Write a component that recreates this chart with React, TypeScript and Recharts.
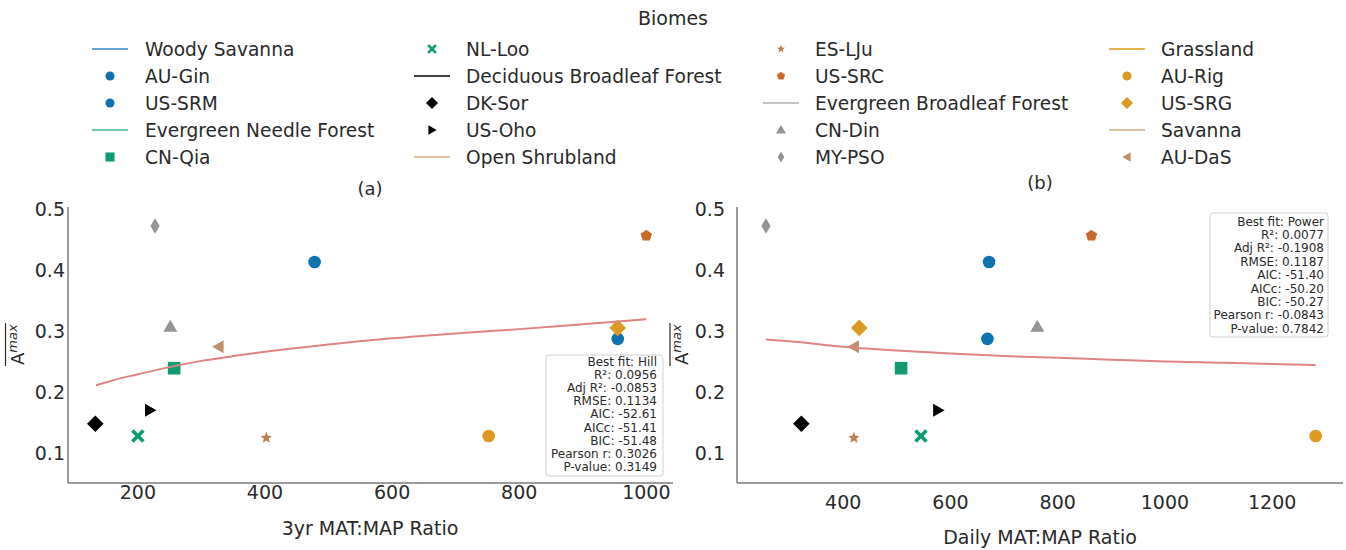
import React from 'react';
import { ScatterChart, Scatter, XAxis, YAxis } from 'recharts';

// ---------- data ----------
const sites = ['AU-Gin', 'US-SRM', 'CN-Qia', 'NL-Loo', 'DK-Sor', 'US-Oho', 'ES-LJu', 'US-SRC', 'CN-Din', 'MY-PSO', 'AU-Rig', 'US-SRG', 'AU-DaS'];
const ratio3yr = [478, 955, 257, 200, 133, 219, 402, 1000, 251, 227, 752, 955, 327];
const ratioDaily = [672, 669, 508, 545, 322, 577, 420, 863, 762, 256, 1281, 430, 420];
const amax = [0.413, 0.287, 0.239, 0.128, 0.148, 0.170, 0.125, 0.456, 0.307, 0.472, 0.128, 0.305, 0.274];

const fitAx = [134, 160, 200, 255, 300, 350, 400, 500, 600, 700, 800, 900, 1000];
const fitAy = [0.211, 0.219, 0.229, 0.242, 0.251, 0.259, 0.266, 0.278, 0.288, 0.296, 0.303, 0.311, 0.319];
const fitBx = [256, 300, 400, 500, 600, 700, 800, 900, 1000, 1100, 1200, 1281];
const fitBy = [0.286, 0.283, 0.274, 0.268, 0.263, 0.259, 0.256, 0.253, 0.250, 0.248, 0.246, 0.244];

const yTicks = [0.1, 0.2, 0.3, 0.4, 0.5];
const xTicksA = [200, 400, 600, 800, 1000];
const xTicksB = [400, 600, 800, 1000, 1200];

const statsA = ['Best fit: Hill', 'R²: 0.0956', 'Adj R²: -0.0853', 'RMSE: 0.1134', 'AIC: -52.61', 'AICc: -51.41', 'BIC: -51.48', 'Pearson r: 0.3026', 'P-value: 0.3149'];
const statsB = ['Best fit: Power', 'R²: 0.0077', 'Adj R²: -0.1908', 'RMSE: 0.1187', 'AIC: -51.40', 'AICc: -50.20', 'BIC: -50.27', 'Pearson r: -0.0843', 'P-value: 0.7842'];

const legendColumns = [
  ['Woody Savanna', 'AU-Gin', 'US-SRM', 'Evergreen Needle Forest', 'CN-Qia'],
  ['NL-Loo', 'Deciduous Broadleaf Forest', 'DK-Sor', 'US-Oho', 'Open Shrubland'],
  ['ES-LJu', 'US-SRC', 'Evergreen Broadleaf Forest', 'CN-Din', 'MY-PSO'],
  ['Grassland', 'AU-Rig', 'US-SRG', 'Savanna', 'AU-DaS'],
];

// ---------- styles ----------
const FONT = 'DejaVu Sans';
const TEXT = '#2a2a2a';
const AXIS = '#7a7a7a';
const FIT = '#df8383';

const siteStyle: Record<string, { kind: string; color: string }> = {
  'AU-Gin': { kind: 'circle', color: '#0e72b1' },
  'US-SRM': { kind: 'circle', color: '#0e72b1' },
  'CN-Qia': { kind: 'square', color: '#109a72' },
  'NL-Loo': { kind: 'x', color: '#109a72' },
  'DK-Sor': { kind: 'diamond', color: '#000000' },
  'US-Oho': { kind: 'triRight', color: '#000000' },
  'ES-LJu': { kind: 'star', color: '#b8804e' },
  'US-SRC': { kind: 'pentagon', color: '#c9692c' },
  'CN-Din': { kind: 'triUp', color: '#949494' },
  'MY-PSO': { kind: 'thinDiamond', color: '#949494' },
  'AU-Rig': { kind: 'circle', color: '#dc9a20' },
  'US-SRG': { kind: 'diamond', color: '#dc9a20' },
  'AU-DaS': { kind: 'triLeft', color: '#c0906a' },
};

const biomeLine: Record<string, string> = {
  'Woody Savanna': '#64a6d0',
  'Evergreen Needle Forest': '#70c8ae',
  'Deciduous Broadleaf Forest': '#444444',
  'Open Shrubland': '#e6c49e',
  'Evergreen Broadleaf Forest': '#c4c4c4',
  'Grassland': '#e8b44e',
  'Savanna': '#dcc3a4',
};

function markerEl(kind: string, cx: number, cy: number, color: string, s: number) {
  switch (kind) {
    case 'circle':
      return <circle cx={cx} cy={cy} r={6.3 * s} fill={color} />;
    case 'square':
      return <rect x={cx - 6.3 * s} y={cy - 6.3 * s} width={12.6 * s} height={12.6 * s} fill={color} />;
    case 'diamond': {
      const h = 8.3 * s;
      return <path d={`M${cx},${cy - h}L${cx + h},${cy}L${cx},${cy + h}L${cx - h},${cy}Z`} fill={color} />;
    }
    case 'thinDiamond': {
      const w = 4.6 * s, h = 7.8 * s;
      return <path d={`M${cx},${cy - h}L${cx + w},${cy}L${cx},${cy + h}L${cx - w},${cy}Z`} fill={color} />;
    }
    case 'triUp': {
      const w = 7 * s;
      return <path d={`M${cx},${cy - 7 * s}L${cx + w},${cy + 5 * s}L${cx - w},${cy + 5 * s}Z`} fill={color} />;
    }
    case 'triRight':
      return <path d={`M${cx + 6.5 * s},${cy}L${cx - 5 * s},${cy - 6.5 * s}L${cx - 5 * s},${cy + 6.5 * s}Z`} fill={color} />;
    case 'triLeft':
      return <path d={`M${cx - 6.5 * s},${cy}L${cx + 5 * s},${cy - 6.5 * s}L${cx + 5 * s},${cy + 6.5 * s}Z`} fill={color} />;
    case 'pentagon': {
      const r = 6 * s;
      const pts = [0, 1, 2, 3, 4].map((i) => {
        const a = -Math.PI / 2 + (i * 2 * Math.PI) / 5;
        return `${cx + r * Math.cos(a)},${cy + r * Math.sin(a)}`;
      });
      return <polygon points={pts.join(' ')} fill={color} />;
    }
    case 'star': {
      const ro = 6 * s, ri = 2.6 * s;
      const pts = Array.from({ length: 10 }, (_, i) => {
        const a = -Math.PI / 2 + (i * Math.PI) / 5;
        const r = i % 2 === 0 ? ro : ri;
        return `${cx + r * Math.cos(a)},${cy + r * Math.sin(a)}`;
      });
      return <polygon points={pts.join(' ')} fill={color} />;
    }
    case 'x': {
      const h = 4.2 * s;
      return (
        <g stroke={color} strokeWidth={3.6 * s} strokeLinecap="square">
          <line x1={cx - h} y1={cy - h} x2={cx + h} y2={cy + h} />
          <line x1={cx - h} y1={cy + h} x2={cx + h} y2={cy - h} />
        </g>
      );
    }
    default:
      return <circle cx={cx} cy={cy} r={5 * s} fill={color} />;
  }
}

const makeShape = (site: string) => (props: any) => {
  const st = siteStyle[site];
  if (props.cx == null || props.cy == null) return <g />;
  return markerEl(st.kind, props.cx, props.cy, st.color, 1);
};

const emptyShape = () => <g />;

function Panel({ xs, fitX, fitY, xTicks, domain, left, right, yWidth, xMargin, yMargin }: any) {
  const fitData = fitX.map((x: number, i: number) => ({ x, y: fitY[i] }));
  const tickStyle = { fontSize: 19, fill: TEXT, fontFamily: FONT };
  return (
    <div style={{ position: 'absolute', left: 0, top: 0 }}>
      <ScatterChart width={1346} height={550} margin={{ top: 207, right, bottom: 0, left }}>
        <XAxis
          type="number"
          dataKey="x"
          domain={domain}
          ticks={xTicks}
          allowDataOverflow
          interval={0}
          height={67}
          tickLine={false}
          tickSize={0}
          tickMargin={xMargin}
          axisLine={{ stroke: AXIS, strokeWidth: 1.5 }}
          tick={tickStyle}
        />
        <YAxis
          type="number"
          dataKey="y"
          domain={[0.051, 0.503]}
          ticks={yTicks}
          allowDataOverflow
          interval={0}
          width={yWidth}
          tickLine={false}
          tickSize={0}
          tickMargin={yMargin}
          axisLine={{ stroke: AXIS, strokeWidth: 1.5 }}
          tick={tickStyle}
          tickFormatter={(v: number) => v.toFixed(1)}
        />
        {sites.map((s, i) => (
          <Scatter
            key={s}
            name={s}
            data={[{ x: xs[i], y: amax[i] }]}
            shape={makeShape(s)}
            isAnimationActive={false}
          />
        ))}
        <Scatter
          name="fit"
          data={fitData}
          line={{ stroke: FIT, strokeWidth: 2 }}
          lineJointType="monotoneX"
          shape={emptyShape}
          isAnimationActive={false}
        />
      </ScatterChart>
    </div>
  );
}

function YLabel({ x, y }: { x: number; y: number }) {
  return (
    <g transform={`translate(${x},${y}) rotate(-90)`}>
      <text x={-20} y={0} fontSize={18} fill={TEXT} fontFamily={FONT}>
        <tspan>A</tspan>
        <tspan fontSize={13} fontStyle="italic" dy={-7}>max</tspan>
      </text>
      <line x1={-21} x2={22} y1={-18} y2={-18} stroke={TEXT} strokeWidth={1.2} />
    </g>
  );
}

function StatsBox({ x, y, w, h, lines, textRight, firstBaseline, step }: any) {
  return (
    <g>
      <rect x={x} y={y} width={w} height={h} rx={3} fill="#ffffff" fillOpacity={0.85} stroke="#d0d0d0" strokeWidth={1} />
      {lines.map((t: string, i: number) => (
        <text key={t} x={textRight} y={firstBaseline + i * step} textAnchor="end" fontSize={12} fill={TEXT} fontFamily={FONT}>
          {t}
        </text>
      ))}
    </g>
  );
}

const colMarkerX = [110, 432, 781, 1127];
const colTextX = [145, 466, 815, 1161];
const rowY = [49, 76, 103, 130, 157];

function Legend() {
  return (
    <g>
      <text x={673} y={25} textAnchor="middle" fontSize={19} fill={TEXT} fontFamily={FONT}>Biomes</text>
      {legendColumns.map((col, ci) =>
        col.map((label, ri) => {
          const mx = colMarkerX[ci];
          const my = rowY[ri];
          const isLine = biomeLine[label] !== undefined;
          return (
            <g key={label}>
              {isLine ? (
                <line x1={mx - 18} x2={mx + 18} y1={my} y2={my} stroke={biomeLine[label]} strokeWidth={2} />
              ) : (
                markerEl(siteStyle[label].kind, mx, my, siteStyle[label].color, 0.72)
              )}
              <text x={colTextX[ci]} y={my + 6.5} fontSize={18.6} fill={TEXT} fontFamily={FONT}>{label}</text>
            </g>
          );
        })
      )}
    </g>
  );
}

export default function App() {
  return (
    <div style={{ position: 'absolute', left: 0, top: 0, width: 1346, height: 550, background: '#ffffff', fontFamily: FONT }}>
      <Panel xs={ratio3yr} fitX={fitAx} fitY={fitAy} xTicks={xTicksA} domain={[90, 1042]} left={0} right={673} yWidth={68} xMargin={3} yMargin={3} />
      <Panel xs={ratioDaily} fitX={fitBx} fitY={fitBy} xTicks={xTicksB} domain={[202, 1332]} left={677} right={3} yWidth={60} xMargin={13} yMargin={12} />
      <svg width={1346} height={550} style={{ position: 'absolute', left: 0, top: 0, pointerEvents: 'none' }}>
        <Legend />
        <text x={370} y={195} textAnchor="middle" fontSize={18} fill={TEXT} fontFamily={FONT}>(a)</text>
        <text x={1040} y={189} textAnchor="middle" fontSize={18} fill={TEXT} fontFamily={FONT}>(b)</text>
        <text x={370} y={535} textAnchor="middle" fontSize={19} fill={TEXT} fontFamily={FONT}>3yr MAT:MAP Ratio</text>
        <text x={1040} y={544} textAnchor="middle" fontSize={19} fill={TEXT} fontFamily={FONT}>Daily MAT:MAP Ratio</text>
        <YLabel x={23.5} y={345} />
        <YLabel x={688} y={345} />
        <StatsBox x={546} y={355} w={117} h={121} lines={statsA} textRight={657} firstBaseline={365.5} step={13.2} />
        <StatsBox x={1210} y={213} w={118} h={124} lines={statsB} textRight={1324} firstBaseline={225.5} step={13.4} />
      </svg>
    </div>
  );
}
